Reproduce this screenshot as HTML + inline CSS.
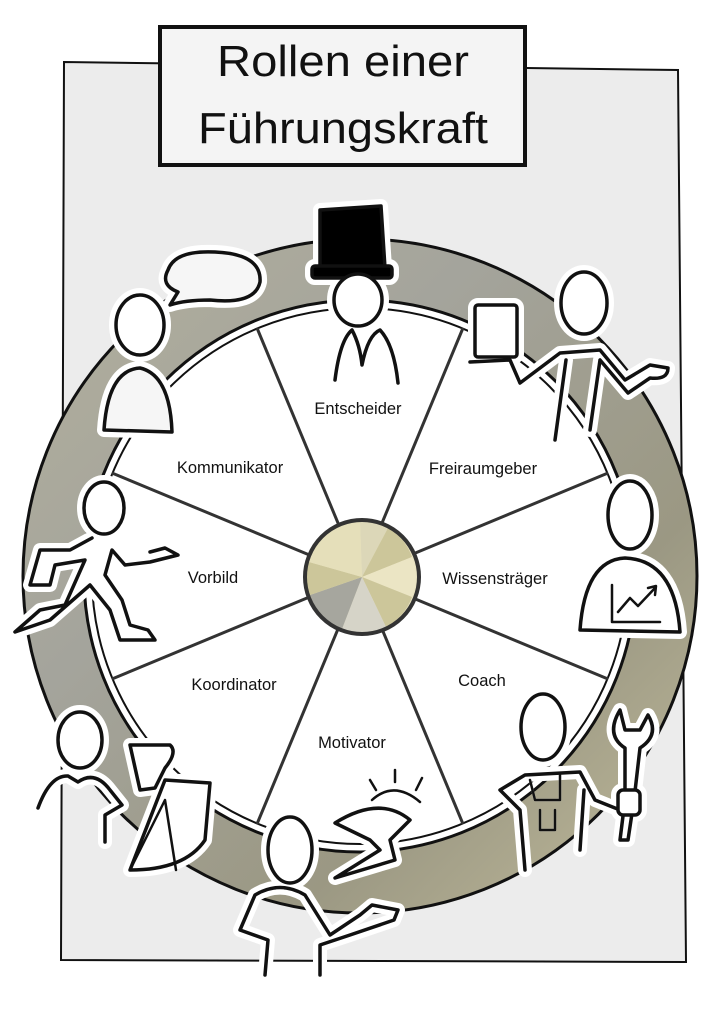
<!DOCTYPE html>
<html><head><meta charset="utf-8"><style>
html,body{margin:0;padding:0;background:#fff;width:724px;height:1024px;overflow:hidden}
svg{display:block}
text{font-family:"Liberation Sans",sans-serif;fill:#111}
</style></head><body>
<svg width="724" height="1024" viewBox="0 0 724 1024" xmlns="http://www.w3.org/2000/svg">
<defs>
<linearGradient id="ring" x1="0" y1="0" x2="1" y2="1">
<stop offset="0" stop-color="#b3b09c"/><stop offset="0.35" stop-color="#a4a49c"/><stop offset="0.7" stop-color="#9b9883"/><stop offset="1" stop-color="#c2bc9c"/>
</linearGradient>
<g id="figs">
<!-- Entscheider -->
<path d="M320 210 L381 206 L385 268 L320 270 Z" fill="#000"/>
<rect x="312" y="266" width="80" height="12" rx="3" fill="#000"/>
<ellipse cx="358" cy="300" rx="24" ry="26"/>
<path d="M335 380 Q340 340 352 330 Q360 345 362 365 Q368 335 380 330 Q394 345 398 383" fill="none"/>
<!-- Kommunikator -->
<path d="M168 270 Q175 250 215 252 Q262 254 260 282 Q255 305 210 300 Q185 300 170 305 L178 292 Q160 285 168 270 Z" fill="#f6f6f6"/>
<ellipse cx="140" cy="325" rx="24" ry="30"/>
<path d="M104 430 Q108 370 140 368 Q170 375 172 432 Z" fill="#f6f6f6"/>
<!-- Freiraumgeber -->
<rect x="475" y="305" width="42" height="52" rx="3"/>
<ellipse cx="584" cy="303" rx="23" ry="31"/>
<path d="M470 362 L510 360 L520 383 L560 353 L600 350 L625 380 L650 365 L668 368 Q668 380 650 378 L628 393 L600 360 L590 430" fill="none"/>
<path d="M566 360 L555 440" fill="none"/>
<!-- Wissensträger -->
<ellipse cx="630" cy="515" rx="22" ry="34"/>
<path d="M580 630 Q585 560 625 558 Q675 560 680 632 Z"/>
<path d="M612 585 L612 622 L660 622 M618 612 L630 598 L638 606 L655 588 M648 588 L656 586 L655 595" fill="none" stroke-width="2.5"/>
<!-- Vorbild -->
<ellipse cx="104" cy="508" rx="20" ry="26"/>
<path d="M92 538 L70 550 L40 550 L30 585 L50 585 L55 565 L85 560 L65 605 L40 610 L15 632 L50 620 L90 585 L110 610 L120 640 L155 640 L148 630 L130 625 L122 600 L105 575 L112 550 L125 565 L150 562 L178 555 L165 548 L150 552" fill="#fff"/>
<!-- Koordinator -->
<ellipse cx="80" cy="740" rx="22" ry="28"/>
<path d="M38 808 Q50 775 68 776 L78 782 Q95 770 110 790 L122 805 L105 815 L105 842" fill="none"/>
<path d="M130 745 L170 745 Q178 752 165 768 L155 788 L140 790 Z"/>
<path d="M130 870 L165 780 L210 783 L205 840 Q185 870 130 870 Z" fill="#fff"/>
<path d="M130 870 L165 800 L176 870" fill="none" stroke-width="2.5"/>
<!-- Motivator -->
<ellipse cx="290" cy="850" rx="22" ry="33"/>
<path d="M265 975 L268 940 L240 930 L255 895 Q280 880 305 895 L330 935 L360 915 L372 905 L398 910 L394 920 L350 935 L320 945 L320 975" fill="none"/>
<path d="M335 823 Q380 795 410 820 L390 840 L395 860 L335 878 L380 850 L370 840 Z" fill="#fff"/>
<path d="M372 800 Q394 780 420 802 M370 780 L376 790 M395 770 L395 782 M422 778 L416 790" fill="none" stroke-width="2.5"/>
<!-- Coach -->
<ellipse cx="543" cy="727" rx="22" ry="33"/>
<path d="M525 870 L520 810 L500 790 L525 775 L580 772 L595 800 L620 810 L625 800" fill="none"/>
<path d="M530 780 L535 800 L560 800 L560 775 M540 810 L540 830 L555 830 L555 810" fill="none" stroke-width="2.5"/>
<path d="M580 850 L584 790" fill="none"/>
<path d="M620 710 L625 730 L640 730 L648 715 Q660 735 640 748 L634 800 L628 840 L620 840 L625 800 L625 748 Q605 735 620 710 Z"/>
<rect x="618" y="790" width="22" height="25" rx="5"/>
</g>
</defs>
<!-- background panel -->
<path d="M64 62 L678 70 L686 962 L61 960 Z" fill="#ececec" stroke="#111" stroke-width="2"/>
<!-- title -->
<rect x="160" y="27" width="365" height="138" fill="#f4f4f4" stroke="#111" stroke-width="4"/>
<text x="343" y="76" font-size="44" text-anchor="middle" textLength="252" lengthAdjust="spacingAndGlyphs">Rollen einer</text>
<text x="343" y="143" font-size="44" text-anchor="middle" textLength="290" lengthAdjust="spacingAndGlyphs">Führungskraft</text>
<!-- ring -->
<circle cx="360" cy="576" r="337" fill="url(#ring)" stroke="#111" stroke-width="3"/>
<circle cx="360" cy="576" r="276" fill="#fff" stroke="#111" stroke-width="3"/>
<circle cx="360" cy="576" r="268" fill="#fff" stroke="#111" stroke-width="2"/>
<!-- spokes -->
<g stroke="#333" stroke-width="3">
<line x1="360" y1="576" x2="257" y2="328"/>
<line x1="360" y1="576" x2="463" y2="328"/>
<line x1="360" y1="576" x2="608" y2="473"/>
<line x1="360" y1="576" x2="608" y2="679"/>
<line x1="360" y1="576" x2="463" y2="824"/>
<line x1="360" y1="576" x2="257" y2="824"/>
<line x1="360" y1="576" x2="112" y2="679"/>
<line x1="360" y1="576" x2="112" y2="473"/>
</g>
<!-- hub -->
<g transform="translate(362,577)">
<circle r="57" fill="#e8e2c0"/>
<path d="M0 0 L-2 -55 A55 55 0 0 1 26 -49 Z" fill="#dcd7b8"/>
<path d="M0 0 L26 -49 A55 55 0 0 1 50 -20 Z" fill="#ccc69a"/>
<path d="M0 0 L50 -20 A55 55 0 0 1 50 20 Z" fill="#ebe5c4"/>
<path d="M0 0 L50 20 A55 55 0 0 1 24 50 Z" fill="#ccc69a"/>
<path d="M0 0 L24 50 A55 55 0 0 1 -20 52 Z" fill="#d6d4c8"/>
<path d="M0 0 L-20 52 A55 55 0 0 1 -52 18 Z" fill="#a6a69e"/>
<path d="M0 0 L-52 18 A55 55 0 0 1 -53 -15 Z" fill="#ccc69a"/>
<path d="M0 0 L-53 -15 A55 55 0 0 1 -2 -55 Z" fill="#e5dfba"/>
<circle r="57" fill="none" stroke="#333" stroke-width="4"/>
</g>
<!-- labels -->
<g font-size="16.5" text-anchor="middle">
<text x="358" y="414">Entscheider</text>
<text x="230" y="473">Kommunikator</text>
<text x="483" y="474">Freiraumgeber</text>
<text x="213" y="583">Vorbild</text>
<text x="495" y="584">Wissensträger</text>
<text x="234" y="690">Koordinator</text>
<text x="482" y="686">Coach</text>
<text x="352" y="748">Motivator</text>
</g>
<!-- figures: white halo then lines -->
<g fill="#fff" stroke="#fff" stroke-width="14" stroke-linecap="round" stroke-linejoin="round">
<use href="#figs"/>
</g>
<g fill="#fff" stroke="#111" stroke-width="3.5" stroke-linecap="round" stroke-linejoin="round">
<use href="#figs"/>
</g>
</svg>
</body></html>
